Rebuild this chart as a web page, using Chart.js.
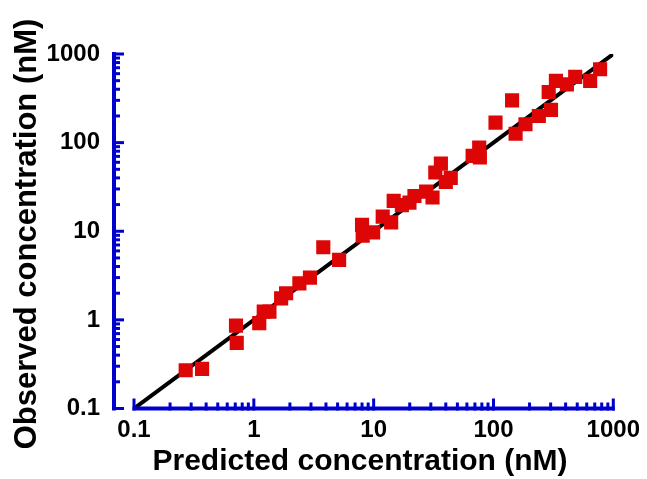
<!DOCTYPE html>
<html>
<head>
<meta charset="utf-8">
<script src="https://cdn.jsdelivr.net/npm/chart.js@4"></script>
<style>
  body { margin: 0; background: #fff; }
  #wrap { width: 647px; height: 479px; position: relative; }
</style>
</head>
<body>
<div id="wrap"><canvas id="concChart"></canvas></div>
<script>
// predicted vs observed concentration, log-log
const predicted = [0.27, 0.37, 0.71, 0.72, 1.11, 1.21, 1.35, 1.69, 1.86, 2.4, 2.94,
  3.8, 5.15, 8.0, 8.1, 9.9, 11.9, 14.0, 14.7, 17.2, 19.9, 21.9, 27.4, 31, 32.7,
  36.4, 40, 44, 67, 76, 77, 104, 143, 153, 185, 239, 289, 302, 332, 410, 481, 641, 776];
const observed = [0.27, 0.28, 0.86, 0.55, 0.92, 1.24, 1.24, 1.75, 2.0, 2.58, 3.0,
  6.6, 4.75, 11.8, 8.9, 9.7, 14.6, 12.6, 22, 19.7, 21, 25, 28, 24, 46,
  58, 36, 40, 71, 88, 68, 168, 300, 126, 161, 200, 373, 234, 497, 455, 551, 497, 673];

// identity line
const lineX = [0.1, 1000];
const lineY = [0.1, 1000];

const tickValues = [0.1, 1, 10, 100, 1000];
const tickLabels = ["0.1", "1", "10", "100", "1000"];

const xTitle = "Predicted concentration (nM)";
const yTitle = "Observed concentration (nM)";

const axisBlue = "#0000cc";
const pointRed = "#dd0606";
const fontName = "'Liberation Sans', Arial, sans-serif";

const scatterPoints = predicted.map((p, i) => ({ x: p, y: observed[i] }));
const linePoints = lineX.map((v, i) => ({ x: v, y: lineY[i] }));

function labelFor(v) {
  const idx = tickValues.findIndex(t => Math.abs(t - v) / t < 1e-6);
  return idx >= 0 ? tickLabels[idx] : "";
}

// draws the blue detached axes and the two titles
const axesPlugin = {
  id: "axesPlugin",
  afterDraw(chart) {
    const ctx = chart.ctx;
    const xs = chart.scales.x;
    const ys = chart.scales.y;
    const bottom = ys.getPixelForValue(0.1);
    const top = ys.getPixelForValue(1000);
    const left = xs.getPixelForValue(0.1);
    const right = xs.getPixelForValue(1000);
    const yAxisX = 114;

    ctx.save();
    ctx.strokeStyle = axisBlue;
    ctx.lineCap = "butt";

    // y axis
    ctx.lineWidth = 4;
    ctx.beginPath();
    ctx.moveTo(yAxisX, top - 2);
    ctx.lineTo(yAxisX, bottom + 2);
    ctx.stroke();
    ctx.lineWidth = 3;
    for (let e = -1; e <= 3; e++) {
      for (let m = 1; m <= 9; m++) {
        const v = m * Math.pow(10, e);
        if (v > 1000.0001) break;
        const py = ys.getPixelForValue(v);
        const len = m === 1 ? 10 : 6;
        ctx.beginPath();
        ctx.moveTo(yAxisX - 2, py);
        ctx.lineTo(yAxisX + len, py);
        ctx.stroke();
      }
    }

    // x axis
    ctx.lineWidth = 4;
    ctx.beginPath();
    ctx.moveTo(left - 1.5, bottom);
    ctx.lineTo(right + 1.5, bottom);
    ctx.stroke();
    ctx.lineWidth = 3;
    for (let e = -1; e <= 3; e++) {
      for (let m = 1; m <= 9; m++) {
        const v = m * Math.pow(10, e);
        if (v > 1000.0001) break;
        const px = xs.getPixelForValue(v);
        const len = m === 1 ? 10 : 6;
        ctx.beginPath();
        ctx.moveTo(px, bottom + 2);
        ctx.lineTo(px, bottom - len);
        ctx.stroke();
      }
    }

    // titles
    ctx.fillStyle = "#000";
    ctx.font = "bold 30px " + fontName;
    ctx.textAlign = "center";
    ctx.textBaseline = "alphabetic";
    ctx.fillText(xTitle, 360, 470);

    ctx.translate(36, 234);
    ctx.rotate(-Math.PI / 2);
    ctx.font = "bold 31px " + fontName;
    ctx.fillText(yTitle, 0, 0);
    ctx.restore();
  }
};

const chartConfig = {
  type: "scatter",
  data: {
    datasets: [
      {
        label: "Observed",
        data: scatterPoints,
        pointStyle: "rect",
        pointRadius: 10,
        pointHoverRadius: 10,
        pointBorderWidth: 0,
        backgroundColor: pointRed,
        borderColor: pointRed,
      },
      {
        type: "line",
        label: "Identity",
        data: linePoints,
        borderColor: "#000",
        borderWidth: 4,
        pointRadius: 0,
        fill: false,
      },
    ],
  },
  options: {
    responsive: true,
    maintainAspectRatio: false,
    animation: false,
    layout: { padding: { top: 54, right: 32, left: 0, bottom: 0 } },
    plugins: {
      legend: { display: false },
      tooltip: { enabled: false },
    },
    scales: {
      x: {
        type: "logarithmic",
        position: "bottom",
        min: 0.1,
        max: 1000,
        grid: { display: false, drawTicks: false },
        border: { display: false },
        afterBuildTicks: s => { s.ticks = tickValues.map(v => ({ value: v })); },
        afterFit: s => { s.height = 479 - 408.5; },
        ticks: {
          autoSkip: false,
          maxRotation: 0,
          padding: 7,
          color: "#000",
          font: { family: fontName, size: 24, weight: "bold" },
          callback: v => labelFor(v),
        },
      },
      y: {
        type: "logarithmic",
        position: "left",
        min: 0.1,
        max: 1000,
        grid: { display: false, drawTicks: false },
        border: { display: false },
        afterBuildTicks: s => { s.ticks = tickValues.map(v => ({ value: v })); },
        afterFit: s => { s.width = 134; },
        ticks: {
          autoSkip: false,
          padding: 34,
          color: "#000",
          font: { family: fontName, size: 24, weight: "bold" },
          callback: v => labelFor(v),
        },
      },
    },
  },
  plugins: [axesPlugin],
};

const ctx = document.getElementById("concChart").getContext("2d");
let concChart = new Chart(ctx, chartConfig);
</script>
</body>
</html>
